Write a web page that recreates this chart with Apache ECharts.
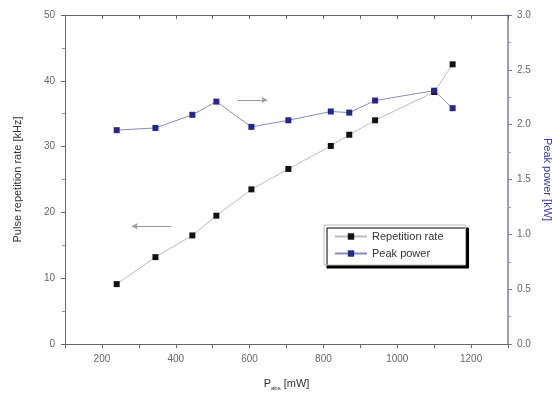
<!DOCTYPE html>
<html><head><meta charset="utf-8">
<script src="https://cdn.jsdelivr.net/npm/echarts@6/dist/echarts.min.js"></script>
<style>html,body{margin:0;padding:0;background:#fff}#c{width:552px;height:399px}</style>
</head><body><div id="c"></div>
<script>
var pumpPower = [240, 345, 445, 510, 605, 705, 820, 870, 940, 1100, 1150];
var repRate = [9.1, 13.2, 16.5, 19.5, 23.5, 26.6, 30.1, 31.8, 34.0, 38.3, 42.5];
var peakPower = [1.95, 1.97, 2.09, 2.21, 1.98, 2.04, 2.12, 2.11, 2.22, 2.31, 2.15];
var xTickLabels = [200, 400, 600, 800, 1000, 1200];
var arrowRight = [[568, 37.1], [648, 37.1]];
var arrowLeft = [[388, 17.9], [281, 17.9]];

function pairs(xs, ys) { return xs.map(function (x, i) { return [x, ys[i]]; }); }

var chart = echarts.init(document.getElementById('c'), null, {renderer: 'canvas'});
var labelStyle = {color: '#666', fontSize: 10, fontFamily: 'Liberation Sans'};
chart.setOption({
  animation: false,
  grid: {left: 65, right: 44, top: 15, bottom: 55, containLabel: false, outerBoundsMode: 'none'},
  legend: {
    left: 324, top: 225, orient: 'vertical',
    itemWidth: 32, itemHeight: 8, itemGap: 6,
    padding: [6, 22, 6, 10],
    backgroundColor: '#fff', borderColor: '#bbb', borderWidth: 1,
    shadowColor: '#000', shadowOffsetX: 3, shadowOffsetY: 3, shadowBlur: 0,
    textStyle: {color: '#333', fontSize: 11, fontFamily: 'Liberation Sans'},
    data: ['Repetition rate', 'Peak power']
  },
  xAxis: [{
    type: 'value', min: 100, max: 1300, interval: 100,
    name: 'P{sub|abs} [mW]', nameLocation: 'middle', nameGap: 33,
    nameTextStyle: {color: '#333', fontSize: 11, fontFamily: 'Liberation Sans',
      rich: {sub: {fontSize: 6, verticalAlign: 'bottom', padding: [8, 0, 0, 0], color: '#333'}}},
    axisLine: {show: true, onZero: false, lineStyle: {color: '#666'}},
    axisTick: {show: true, length: 4, lineStyle: {color: '#666'}},
    splitLine: {show: false},
    axisLabel: Object.assign({margin: 10, formatter: function (v) {
      return xTickLabels.indexOf(v) >= 0 ? String(v) : '';
    }}, labelStyle)
  }, {
    type: 'value', position: 'top', min: 100, max: 1300, interval: 100,
    axisLine: {show: true, onZero: false, lineStyle: {color: '#666'}},
    axisTick: {show: true, inside: true, length: 4, lineStyle: {color: '#666'}},
    splitLine: {show: false}, axisLabel: {show: false}
  }],
  yAxis: [{
    type: 'value', min: 0, max: 50, interval: 10,
    name: 'Pulse repetition rate [kHz]', nameLocation: 'middle', nameGap: 42,
    nameTextStyle: {color: '#333', fontSize: 11, fontFamily: 'Liberation Sans'},
    axisLine: {show: true, onZero: false, lineStyle: {color: '#666'}},
    axisTick: {show: true, length: 4, lineStyle: {color: '#666'}},
    minorTick: {show: true, splitNumber: 2, length: 3, lineStyle: {color: '#999'}},
    splitLine: {show: false},
    axisLabel: Object.assign({margin: 10}, labelStyle)
  }, {
    type: 'value', min: 0, max: 3, interval: 0.5, position: 'right',
    name: 'Peak power [kW]', nameLocation: 'middle', nameGap: 32, nameRotate: -90,
    nameTextStyle: {color: '#3a3aa8', fontSize: 11, fontFamily: 'Liberation Sans'},
    axisLine: {show: true, onZero: false, lineStyle: {color: '#7676c4', width: 1.5}},
    axisTick: {show: true, length: 4, lineStyle: {color: '#7676c4'}},
    minorTick: {show: true, splitNumber: 2, length: 3, lineStyle: {color: '#9a9ad0'}},
    splitLine: {show: false},
    axisLabel: Object.assign({margin: 9, formatter: function (v) { return v.toFixed(1); }}, labelStyle)
  }],
  series: [{
    name: 'Repetition rate', type: 'line', xAxisIndex: 0, yAxisIndex: 0,
    data: pairs(pumpPower, repRate),
    symbol: 'rect', symbolSize: 6,
    itemStyle: {color: '#111'},
    lineStyle: {color: '#bbb', width: 1},
    markLine: {
      silent: true, symbol: ['none', 'arrow'], symbolSize: [5, 6],
      label: {show: false},
      lineStyle: {color: '#999', width: 1, type: 'solid'},
      data: [
        [{coord: arrowRight[0]}, {coord: arrowRight[1]}],
        [{coord: arrowLeft[0]}, {coord: arrowLeft[1]}]
      ]
    }
  }, {
    name: 'Peak power', type: 'line', xAxisIndex: 0, yAxisIndex: 1,
    data: pairs(pumpPower, peakPower),
    symbol: 'rect', symbolSize: 6,
    itemStyle: {color: '#26268e'},
    lineStyle: {color: '#8a8ab8', width: 1}
  }]
});
</script>
</body></html>
